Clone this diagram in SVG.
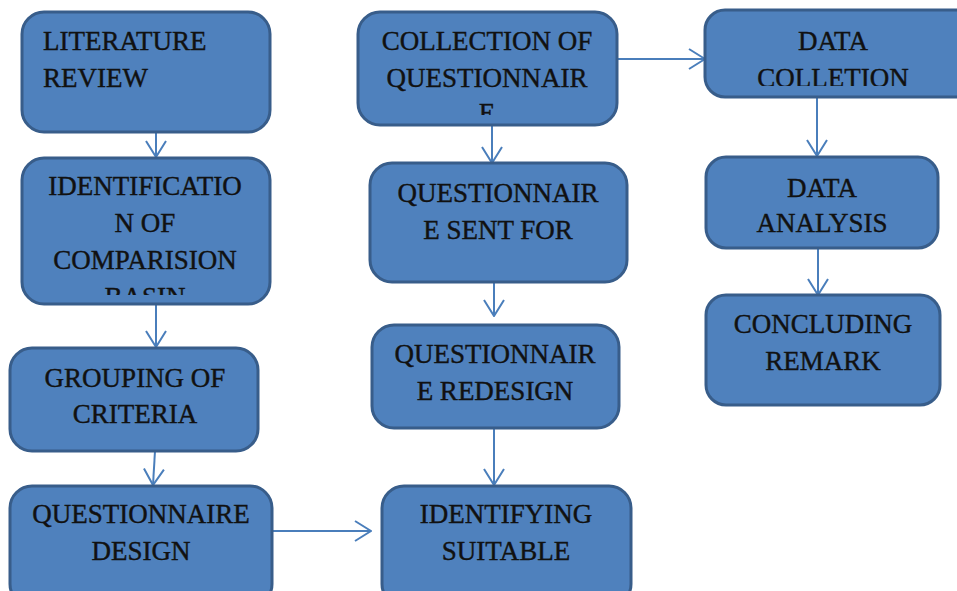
<svg xmlns="http://www.w3.org/2000/svg" width="957" height="591" viewBox="0 0 957 591">
<style>
.box{fill:#4F81BD;stroke:#385D8A;stroke-width:3}
.t{font-family:"Liberation Serif","Times New Roman",serif;font-size:27px;fill:#111;stroke:#111;stroke-width:0.4;text-anchor:middle}
.tl{text-anchor:start}
.c{fill:none;stroke:#4A7EBB;stroke-width:2}
</style>
<defs>
<marker id="ah" markerUnits="userSpaceOnUse" viewBox="0 0 18 22" refX="17" refY="11" markerWidth="18" markerHeight="22" orient="auto">
<path d="M1,1 L17,11 L1,21" fill="none" stroke="#4A7EBB" stroke-width="2"/>
</marker>
<clipPath id="c2"><rect x="22" y="158" width="248" height="137"/></clipPath>
<clipPath id="c5"><rect x="358" y="12" width="259" height="103"/></clipPath>
<clipPath id="c9"><rect x="705" y="10" width="260" height="76"/></clipPath>
</defs>
<g id="connectors">
<line class="c" x1="156" y1="133" x2="156" y2="157" marker-end="url(#ah)"/>
<line class="c" x1="156" y1="305" x2="156" y2="347" marker-end="url(#ah)"/>
<line class="c" x1="155" y1="451" x2="153" y2="485" marker-end="url(#ah)"/>
<line class="c" x1="272" y1="531" x2="371" y2="531" marker-end="url(#ah)"/>
<line class="c" x1="494" y1="428" x2="494" y2="485" marker-end="url(#ah)"/>
<line class="c" x1="494" y1="282" x2="494" y2="316" marker-end="url(#ah)"/>
<line class="c" x1="492" y1="125" x2="492" y2="163" marker-end="url(#ah)"/>
<line class="c" x1="617" y1="59" x2="705" y2="59" marker-end="url(#ah)"/>
<line class="c" x1="817" y1="97" x2="817" y2="156" marker-end="url(#ah)"/>
<line class="c" x1="818" y1="248" x2="818" y2="295" marker-end="url(#ah)"/>
</g>
<g id="n1">
<rect class="box" x="22" y="12" width="248" height="120" rx="22"/>
<text class="t tl" x="43" y="50">LITERATURE</text>
<text class="t tl" x="43" y="87">REVIEW</text>
</g>
<g id="n2">
<rect class="box" x="22" y="158" width="248" height="146" rx="22"/>
<g clip-path="url(#c2)">
<text class="t" x="145" y="195">IDENTIFICATIO</text>
<text class="t" x="145" y="232">N OF</text>
<text class="t" x="145" y="269">COMPARISION</text>
<text class="t" x="145" y="306">BASIN</text>
</g>
</g>
<g id="n3">
<rect class="box" x="10" y="348" width="248" height="103" rx="22"/>
<text class="t" x="135" y="387">GROUPING OF</text>
<text class="t" x="135" y="423">CRITERIA</text>
</g>
<g id="n4">
<rect class="box" x="10" y="486" width="262" height="120" rx="22"/>
<text class="t" x="141" y="523">QUESTIONNAIRE</text>
<text class="t" x="141" y="560">DESIGN</text>
</g>
<g id="n5">
<rect class="box" x="358" y="12" width="259" height="113" rx="22"/>
<g clip-path="url(#c5)">
<text class="t" x="487" y="50">COLLECTION OF</text>
<text class="t" x="487" y="87">QUESTIONNAIR</text>
<text class="t" x="487" y="122">E</text>
</g>
</g>
<g id="n6">
<rect class="box" x="370" y="163" width="257" height="119" rx="22"/>
<text class="t" x="498" y="202">QUESTIONNAIR</text>
<text class="t" x="498" y="239">E SENT FOR</text>
</g>
<g id="n7">
<rect class="box" x="372" y="325" width="247" height="103" rx="22"/>
<text class="t" x="495" y="363">QUESTIONNAIR</text>
<text class="t" x="495" y="400">E REDESIGN</text>
</g>
<g id="n8">
<rect class="box" x="382" y="486" width="249" height="120" rx="22"/>
<text class="t" x="506" y="523">IDENTIFYING</text>
<text class="t" x="506" y="560">SUITABLE</text>
</g>
<g id="n9">
<rect class="box" x="705" y="10" width="270" height="87" rx="20"/>
<g clip-path="url(#c9)">
<text class="t" x="833" y="50">DATA</text>
<text class="t" x="833" y="87">COLLETION</text>
</g>
</g>
<g id="n10">
<rect class="box" x="706" y="157" width="232" height="91" rx="20"/>
<text class="t" x="822" y="197">DATA</text>
<text class="t" x="822" y="232">ANALYSIS</text>
</g>
<g id="n11">
<rect class="box" x="706" y="295" width="234" height="110" rx="20"/>
<text class="t" x="823" y="333">CONCLUDING</text>
<text class="t" x="823" y="370">REMARK</text>
</g>
</svg>
